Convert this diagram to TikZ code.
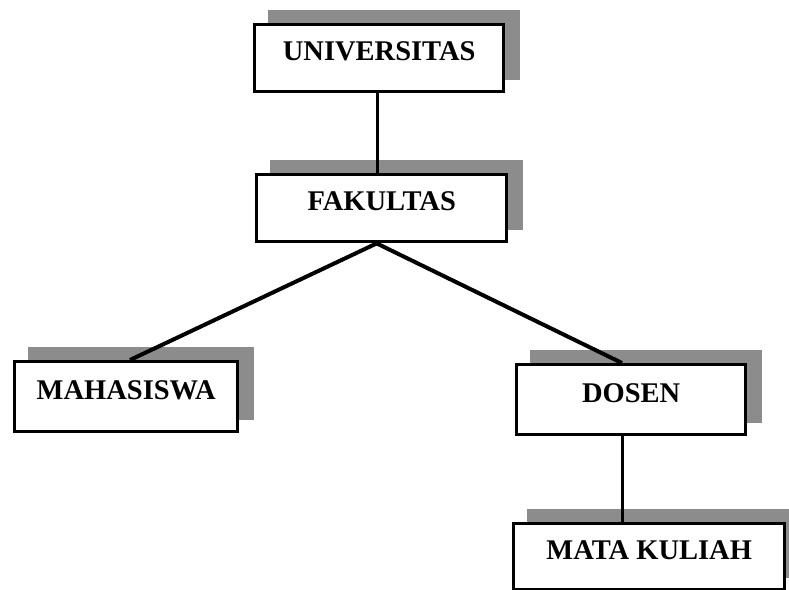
\documentclass[tikz,border=0pt]{standalone}
\usepackage{fontspec}
\setmainfont{Liberation Serif}
\usetikzlibrary{backgrounds}
\begin{document}
\begin{tikzpicture}[x=1pt,y=-1pt,
  entity/.style={draw=black, line width=3.4pt, fill=white, rectangle,
    inner sep=0pt, anchor=north west, text depth=14pt,
    font=\fontsize{28.5}{30}\selectfont\bfseries},
  shadowfill/.style={fill=black!45},
  link/.style={draw=black, line width=4pt}]
\useasboundingbox (0,0) rectangle (789,589);

% entity boxes
\node[entity, minimum width=249pt, minimum height=67pt] (uni) at (253,23) {UNIVERSITAS};
\node[entity, minimum width=250pt, minimum height=67pt] (fak) at (255,173) {FAKULTAS};
\node[entity, minimum width=223pt, minimum height=70pt] (mah) at (13,360) {MAHASISWA};
\node[entity, minimum width=229pt, minimum height=70pt] (dos) at (515,363) {DOSEN};
\node[entity, minimum width=271pt, minimum height=66pt] (mat) at (512,522) {MATA KULIAH};

\begin{scope}[on background layer]
  % drop shadows behind each box
  \foreach \b in {uni,fak,mah,dos,mat}
    \fill[shadowfill] ([shift={(15,-13)}]\b.north west) rectangle ([shift={(15,-13)}]\b.south east);
  % relations
  \draw[link, line width=3pt] ([xshift=-2pt]uni.south) -- ([xshift=-2pt]uni.south |- fak.north);
  \draw[link] ([xshift=-5pt]fak.south) -- ([xshift=117pt]mah.north west);
  \draw[link] ([xshift=-5pt]fak.south) -- ([xshift=107pt]dos.north west);
  \draw[link, line width=3pt] ([xshift=107pt]dos.south west) -- ([xshift=110pt]mat.north west);
\end{scope}
\end{tikzpicture}
\end{document}
